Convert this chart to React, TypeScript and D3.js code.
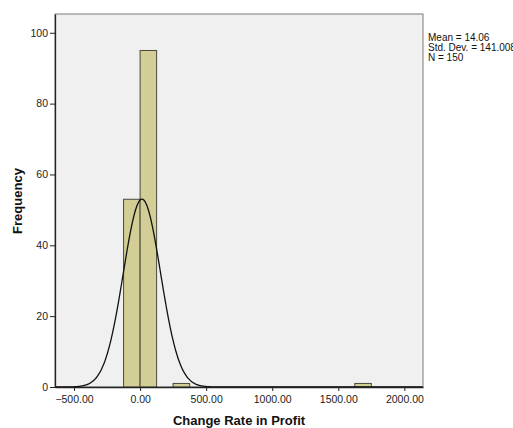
import * as d3 from 'd3';
import React, { useEffect, useRef } from 'react';

// histogram bins (lower edge) and their counts
const binStarts = [-125, 0, 250, 1625];
const binCounts = [53, 95, 1, 1];
const binWidth = 125;

const xTicks = [-500, 0, 500, 1000, 1500, 2000];
const yTicks = [0, 20, 40, 60, 80, 100];

const statLabels = ['Mean = 14.06', 'Std. Dev. = 141.008', 'N = 150'];
const mean = 14.06;
const stdDev = 141.008;
const n = 150;

export default function App() {
  const svgRef = useRef<SVGSVGElement>(null);
  const width = 513;
  const height = 428;

  useEffect(() => {
    const svg = d3.select(svgRef.current);
    svg.selectAll('*').remove();

    const margin = { top: 14, right: 90, bottom: 41, left: 55 };
    const plotW = width - margin.left - margin.right;
    const plotH = height - margin.top - margin.bottom;

    const x = d3.scaleLinear().domain([-644, 2141]).range([0, plotW]);
    const y = d3.scaleLinear().domain([0, 105.3]).range([plotH, 0]);

    const g = svg.append('g').attr('transform', `translate(${margin.left},${margin.top})`);

    // plot background
    g.append('rect')
      .attr('width', plotW)
      .attr('height', plotH)
      .attr('fill', '#f0f0f0')
      .attr('stroke', '#7a7a7a')
      .attr('stroke-width', 1);

    // bars
    g.selectAll('.bar')
      .data(binStarts)
      .enter()
      .append('rect')
      .attr('class', 'bar')
      .attr('x', (d) => x(d))
      .attr('y', (d, i) => y(binCounts[i]))
      .attr('width', (d) => x(d + binWidth) - x(d))
      .attr('height', (d, i) => plotH - y(binCounts[i]))
      .attr('fill', '#d3cd96')
      .attr('stroke', '#4a4a3a')
      .attr('stroke-width', 1);

    // normal curve
    const scale = n * binWidth;
    const pdf = (v: number) =>
      (scale / (stdDev * Math.sqrt(2 * Math.PI))) * Math.exp(-((v - mean) ** 2) / (2 * stdDev * stdDev));
    const pts = d3.range(-644, 2141, 5).map((v) => [v, pdf(v)] as [number, number]);
    const line = d3
      .line<[number, number]>()
      .x((d) => x(d[0]))
      .y((d) => y(d[1]))
      .curve(d3.curveBasis);
    g.append('path')
      .datum(pts)
      .attr('d', line)
      .attr('fill', 'none')
      .attr('stroke', '#111')
      .attr('stroke-width', 1.3);

    // axes
    const xAxis = d3
      .axisBottom(x)
      .tickValues(xTicks)
      .tickFormat((d) => d3.format('.2f')(d as number))
      .tickSize(4)
      .tickSizeOuter(0);
    const xg = g.append('g').attr('transform', `translate(0,${plotH})`).call(xAxis);
    xg.select('.domain').attr('stroke', '#222').attr('stroke-width', 1.3);
    xg.selectAll('.tick line').attr('stroke', '#222');
    xg.selectAll('.tick text')
      .attr('dy', '0.9em')
      .style('font-family', 'Liberation Sans, Arial, sans-serif')
      .style('font-size', '10.5px')
      .attr('fill', '#222');

    const yAxis = d3.axisLeft(y).tickValues(yTicks).tickSize(5).tickSizeOuter(0);
    const yg = g.append('g').call(yAxis);
    yg.select('.domain').attr('stroke', '#222').attr('stroke-width', 1.3);
    yg.selectAll('.tick line').attr('stroke', '#222');
    yg.selectAll('.tick text')
      .attr('x', -7)
      .style('font-family', 'Liberation Sans, Arial, sans-serif')
      .style('font-size', '10.5px')
      .attr('fill', '#222');

    // axis titles
    g.append('text')
      .attr('x', plotW / 2)
      .attr('y', plotH + 38)
      .attr('text-anchor', 'middle')
      .style('font-family', 'Liberation Sans, Arial, sans-serif')
      .style('font-size', '13px')
      .style('font-weight', 'bold')
      .attr('fill', '#111')
      .text('Change Rate in Profit');

    g.append('text')
      .attr('transform', 'rotate(-90)')
      .attr('x', -(plotH - 186))
      .attr('y', -33)
      .attr('text-anchor', 'middle')
      .style('font-family', 'Liberation Sans, Arial, sans-serif')
      .style('font-size', '13px')
      .style('font-weight', 'bold')
      .attr('fill', '#111')
      .text('Frequency');

    // stats legend
    svg
      .append('g')
      .selectAll('text')
      .data(statLabels)
      .enter()
      .append('text')
      .attr('x', 428)
      .attr('y', (d, i) => 41 + i * 10)
      .style('font-family', 'Liberation Sans, Arial, sans-serif')
      .style('font-size', '10px')
      .attr('fill', '#111')
      .text((d) => d);
  }, []);

  return (
    <svg
      ref={svgRef}
      width={width}
      height={height}
      style={{ position: 'absolute', left: 0, top: 0, background: '#fff' }}
    ></svg>
  );
}
